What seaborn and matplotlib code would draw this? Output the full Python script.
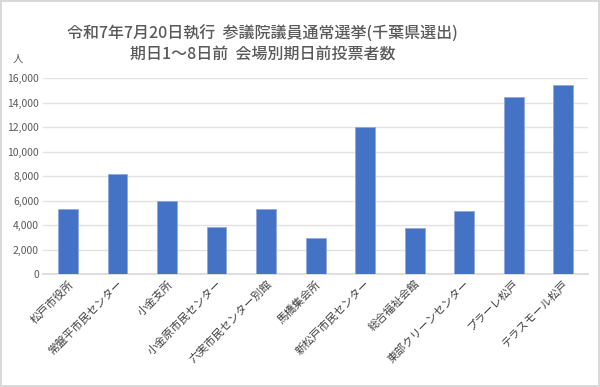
import matplotlib
matplotlib.use('Agg')
import matplotlib.pyplot as plt
import seaborn as sns
import pandas as pd

# ---------------------------------------------------------
# Data: early voters by venue (days 1-8 before election day)
# ---------------------------------------------------------
VENUES = ['松戸市役所', '常盤平市民センター', '小金支所', '小金原市民センター',
          '六実市民センター別館', '馬橋集会所', '新松戸市民センター', '総合福祉会館',
          '東部クリーンセンター', 'プラーレ松戸', 'テラスモール松戸']
VOTERS = [5370, 8170, 5990, 3890, 5310, 2940, 12010, 3780, 5170, 14430, 15430]
Y_TICKS = [0, 2000, 4000, 6000, 8000, 10000, 12000, 14000, 16000]

TITLE = '令和7年7月20日執行  参議院議員通常選挙(千葉県選出)\n期日1～8日前  会場別期日前投票者数'

sns.set_theme(style='white')
plt.rcParams['font.family'] = ['Noto Sans CJK JP', 'DejaVu Sans']

TEXT = '#595959'
df = pd.DataFrame({'venue': VENUES, 'voters': VOTERS})

fig = plt.figure(figsize=(6, 3.87), dpi=100)
fig.patch.set_edgecolor('#d9d9d9')
fig.patch.set_linewidth(1.5)
ax = fig.add_axes([0.072, 0.291, 0.908, 0.507])

sns.barplot(data=df, x='venue', y='voters', color='#4472C4', width=0.4,
            edgecolor='#8faadc', linewidth=0.6, saturation=1, ax=ax, zorder=3)

ax.set_ylim(0, 16000)
ax.set_yticks(Y_TICKS)
ax.set_yticklabels([f'{v:,}' for v in Y_TICKS], fontsize=7.5, color=TEXT)
ax.set_xticks(range(len(VENUES)))
ax.set_xticklabels(VENUES, rotation=45, ha='right', rotation_mode='anchor',
                   fontsize=8, color='#404040')
ax.tick_params(axis='both', length=0, pad=3)
ax.set_xlabel('')
ax.set_ylabel('')
ax.yaxis.grid(True, color='#e3e3e3', linewidth=1, zorder=0)
for s in ['top', 'right', 'left']:
    ax.spines[s].set_visible(False)
ax.spines['bottom'].set_color('#d9d9d9')
ax.set_xlim(-0.5, len(VENUES) - 0.5)

fig.text(0.438, 0.885, TITLE, ha='center', va='center', fontsize=11.5,
         fontweight='medium', color=TEXT, linespacing=1.2)
fig.text(0.03, 0.848, '人', ha='center', va='center', fontsize=7.5, color=TEXT)

fig.savefig('out.png', dpi=100)
